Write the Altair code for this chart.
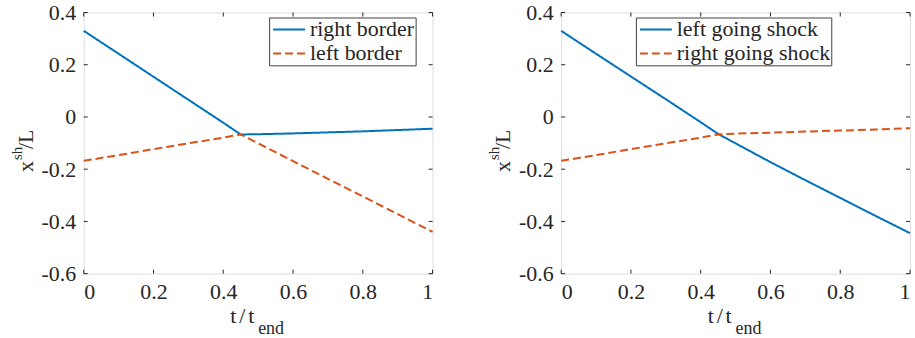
import altair as alt
import pandas as pd

# ---------------- data ----------------
t_vals = [0.0, 0.1, 0.2, 0.3, 0.4, 0.45, 0.5, 0.6, 0.7, 0.8, 0.9, 1.0]

left_names = ["right border", "left border"]
left_right_border = [0.33, 0.242, 0.154, 0.066, -0.022, -0.067, -0.066, -0.063, -0.059, -0.055, -0.050, -0.045]
left_left_border = [-0.168, -0.146, -0.123, -0.101, -0.079, -0.067, -0.101, -0.169, -0.237, -0.304, -0.372, -0.440]

right_names = ["left going shock", "right going shock"]
right_left_shock = [0.33, 0.242, 0.155, 0.068, -0.020, -0.065, -0.101, -0.173, -0.242, -0.310, -0.378, -0.445]
right_right_shock = [-0.168, -0.146, -0.123, -0.101, -0.079, -0.067, -0.064, -0.060, -0.056, -0.052, -0.048, -0.043]

x_ticks = [0, 0.2, 0.4, 0.6, 0.8, 1]
y_ticks = [-0.6, -0.4, -0.2, 0, 0.2, 0.4]

COLORS = ["#0072BD", "#D95319"]
FONT = "Liberation Serif"
TXT = "#262626"
W, H = 350, 262


def panel(names, a, b, legend_x):
    n = len(t_vals)
    df = pd.DataFrame({
        "t": t_vals + t_vals,
        "x": a + b,
        "series": [names[0]] * n + [names[1]] * n,
    })
    leg = alt.Legend(
        orient="none", legendX=legend_x, legendY=5, title=None,
        symbolType="M-0.8,0H2.4", symbolStrokeWidth=2, symbolSize=400,
        labelFont=FONT, labelFontSize=22, labelColor=TXT, labelOffset=18,
        strokeColor="#404040", fillColor="white", padding=1, rowPadding=2,
        labelLimit=300,
    )
    xs = alt.Scale(domain=[0, 1], nice=False, zero=False)
    ys = alt.Scale(domain=[-0.6, 0.4], nice=False, zero=False)
    xax = alt.Axis(
        values=x_ticks, title=None, grid=False, domain=False, ticks=False,
        labelFont=FONT, labelFontSize=22, labelColor=TXT, labelPadding=8,
        labelExpr="format(datum.value, '~g')")
    yax = alt.Axis(
        values=y_ticks, title=None, grid=False, domain=False, ticks=False,
        labelFont=FONT, labelFontSize=22, labelColor=TXT, labelPadding=8,
        labelExpr="datum.value < 0 ? '-' + format(-datum.value, '~g') : format(datum.value, '~g')")
    lines = alt.Chart(df).mark_line(strokeWidth=2).encode(
        x=alt.X("t:Q", scale=xs, axis=xax),
        y=alt.Y("x:Q", scale=ys, axis=yax),
        color=alt.Color("series:N", scale=alt.Scale(domain=names, range=COLORS), legend=leg),
        strokeDash=alt.StrokeDash("series:N", scale=alt.Scale(domain=names, range=[[1, 0], [8, 4]]), legend=leg),
        order=alt.Order("t:Q"),
    )
    xt = pd.DataFrame({"t": x_ticks})
    yt = pd.DataFrame({"x": y_ticks})
    tick_style = dict(color=TXT, strokeWidth=1)
    bt = alt.Chart(xt).mark_rule(**tick_style).encode(x=alt.X("t:Q", scale=xs, axis=xax), y=alt.value(H), y2=alt.value(H - 4))
    tt = alt.Chart(xt).mark_rule(**tick_style).encode(x=alt.X("t:Q", scale=xs, axis=xax), y=alt.value(0), y2=alt.value(4))
    lt = alt.Chart(yt).mark_rule(**tick_style).encode(y=alt.Y("x:Q", scale=ys, axis=yax), x=alt.value(0), x2=alt.value(4))
    rt = alt.Chart(yt).mark_rule(**tick_style).encode(y=alt.Y("x:Q", scale=ys, axis=yax), x=alt.value(W), x2=alt.value(W - 4))

    one = alt.Data(values=[{}])
    def txt(s, size, x, y, angle=0):
        return alt.Chart(one).mark_text(
            text=s, font=FONT, fontSize=size, color=TXT, align="left",
            baseline="alphabetic", angle=angle,
        ).encode(x=alt.value(x), y=alt.value(y))

    titles = [
        txt("t", 22, 147, 312),
        txt("/", 22, 156, 312),
        txt("t", 22, 165, 312),
        txt("end", 18, 175, 323),
        txt("x", 22, -51, 160, 270),
        txt("sh", 15, -62, 148, 270),
        txt("/L", 22, -51, 137, 270),
    ]
    return alt.layer(lines, bt, tt, lt, rt, *titles).properties(width=W, height=H)


left = panel(left_names, left_right_border, left_left_border, 186)
right = panel(right_names, right_left_shock, right_right_shock, 75)

chart = alt.hconcat(left, right, spacing=129).resolve_scale(
    color="independent", strokeDash="independent"
).resolve_legend(color="independent", strokeDash="independent").properties(
    padding={"left": 9, "top": 0, "right": 0, "bottom": 0}, bounds="flush"
).configure_axis(
    labelFont=FONT, labelFontSize=22, labelColor=TXT
).configure_legend(
    labelFont=FONT
).configure_view(stroke="#858585", strokeWidth=1).configure(background="white")

chart.save("out.html", embed_options={"renderer": "svg", "actions": False})
